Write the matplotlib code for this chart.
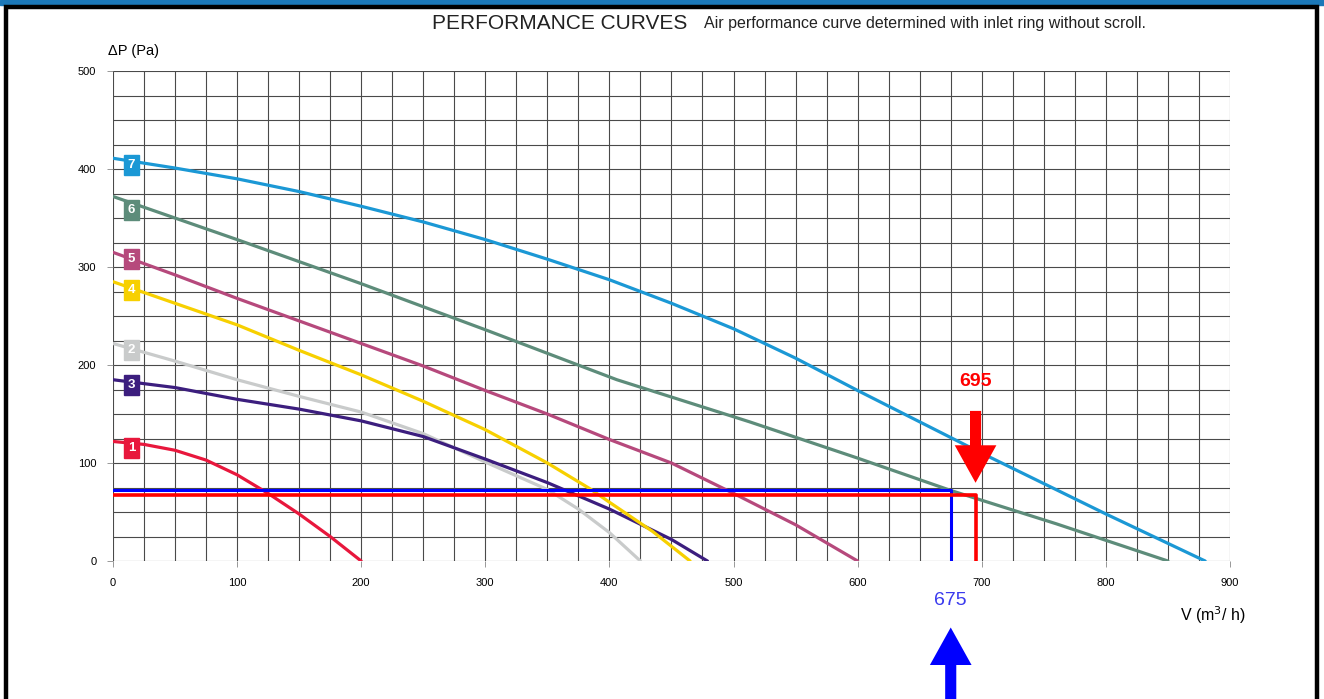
# Fan performance curves: pressure vs. air volume, with the operating point marked
import matplotlib.pyplot as plt
from matplotlib.patches import Rectangle

# ----------------------------------------------------------------------------
# Data
# ----------------------------------------------------------------------------
curve_ids = ["1", "2", "3", "4", "5", "6", "7"]
curve_colors = ["#e8173c", "#c9cbcb", "#3c1e7e", "#f7d000", "#b6497c", "#5d8c7a", "#1b98d5"]

flow_1 = [0, 25, 50, 75, 100, 125, 150, 175, 200]
dp_1 = [122, 119, 113, 103, 88, 69, 48, 25, 0]
flow_2 = [0, 50, 100, 150, 200, 250, 300, 350, 375, 400, 425]
dp_2 = [222, 204, 185, 168, 152, 130, 101, 73, 53, 29, 0]
flow_3 = [0, 50, 100, 150, 200, 250, 300, 350, 400, 450, 479]
dp_3 = [185, 177, 165, 155, 143, 127, 104, 80, 53, 22, 0]
flow_4 = [0, 50, 100, 150, 200, 250, 300, 350, 384, 400, 435, 465]
dp_4 = [285, 263, 241, 215, 190, 163, 134, 100, 74, 60, 30, 0]
flow_5 = [0, 50, 100, 150, 200, 250, 300, 350, 400, 450, 500, 550, 600]
dp_5 = [315, 292, 268, 245, 222, 199, 174, 150, 124, 100, 69, 37, 0]
flow_6 = [0, 100, 200, 300, 406, 513, 600, 675, 760, 850]
dp_6 = [372, 328, 283, 236, 185, 142, 105, 72, 38, 0]
flow_7 = [0, 50, 100, 150, 200, 250, 300, 350, 400, 450, 500, 550, 600,
          650, 700, 750, 800, 850, 880]
dp_7 = [411, 401, 390, 377, 362, 346, 328, 308, 287, 263, 237, 207, 174,
        142, 110, 79, 48, 18, 0]

flows = [flow_1, flow_2, flow_3, flow_4, flow_5, flow_6, flow_7]
pressures = [dp_1, dp_2, dp_3, dp_4, dp_5, dp_6, dp_7]

# where the numbered tags sit on each curve
tag_y = [115, 215, 180, 277, 308, 358, 404]

# operating points
red_flow, red_dp = 695, 67
blue_flow, blue_dp = 675, 72.5

x_ticks = [0, 100, 200, 300, 400, 500, 600, 700, 800, 900]
y_ticks = [0, 100, 200, 300, 400, 500]

SANS = ["Liberation Sans", "DejaVu Sans"]
plt.rcParams["font.family"] = SANS

# ----------------------------------------------------------------------------
# Figure
# ----------------------------------------------------------------------------
fig = plt.figure(figsize=(13.24, 6.99), dpi=100)
ax = fig.add_axes([0.0853, 0.1974, 0.8437, 0.701])

# page decoration: blue strip on top, black frame
fig.patches.append(Rectangle((0, 0.993), 1, 0.007, transform=fig.transFigure,
                             color="#1b78b8", zorder=0))
fig.patches.append(Rectangle((0.0045, -0.05), 0.9905, 1.04, transform=fig.transFigure,
                             fill=False, edgecolor="black", linewidth=3.2, zorder=5))

ax.set_xlim(0, 900)
ax.set_ylim(0, 500)
ax.set_xticks(x_ticks)
ax.set_yticks(y_ticks)
ax.set_xticks(range(0, 901, 25), minor=True)
ax.set_yticks(range(0, 501, 25), minor=True)
ax.grid(which="both", color="#4a4a4a", linewidth=0.8)
ax.tick_params(which="minor", length=0)
ax.tick_params(which="major", length=4, width=0.6, color="#888888",
               labelsize=8, pad=8)
for sp in ax.spines.values():
    sp.set_visible(False)

for cid, col, fx, py, ty in zip(curve_ids, curve_colors, flows, pressures, tag_y):
    ax.plot(fx, py, color=col, linewidth=2.3, solid_capstyle="round",
            solid_joinstyle="round", zorder=3)
    ax.text(15, ty, cid, color="white", fontsize=9.5, fontweight="bold",
            ha="center", va="center", zorder=4,
            bbox=dict(boxstyle="square,pad=0.3", facecolor=col, edgecolor=col))

# operating point guide lines
ax.plot([0, blue_flow, blue_flow], [blue_dp, blue_dp, 0], color="#0000ff",
        linewidth=2.2, zorder=5)
ax.plot([0, red_flow, red_flow], [red_dp, red_dp, 0], color="#ff0000",
        linewidth=2.6, zorder=6)

# arrows + labels
arrow_style = "simple,head_width=3.0,head_length=2.7,tail_width=0.8"
ax.annotate("", xy=(red_flow, 77), xytext=(red_flow, 156),
            arrowprops=dict(arrowstyle=arrow_style, color="#ff0000", lw=0),
            annotation_clip=False)
ax.text(red_flow, 183, str(red_flow), color="#ff0000", fontsize=14,
        fontweight="bold", ha="center", va="center")
ax.annotate("", xy=(blue_flow, -65), xytext=(blue_flow, -145),
            arrowprops=dict(arrowstyle=arrow_style, color="#0000ff", lw=0),
            annotation_clip=False)
ax.text(blue_flow, -40, str(blue_flow), color="#3a3aee", fontsize=14,
        ha="center", va="center")

# axis titles
ax.text(-4, 520, "ΔP (Pa)", fontsize=10.5, ha="left", va="center")
ax.text(860, -55, "V (m$^3$/ h)", fontsize=11.5, ha="left", va="center")

# headings
fig.text(0.326, 0.967, "PERFORMANCE CURVES", fontsize=15,
         color="#222222", ha="left", va="center")
fig.text(0.532, 0.966, "Air performance curve determined with inlet ring without scroll.",
         fontsize=11.5, color="#222222", ha="left", va="center")

fig.savefig("out.png", dpi=100)
